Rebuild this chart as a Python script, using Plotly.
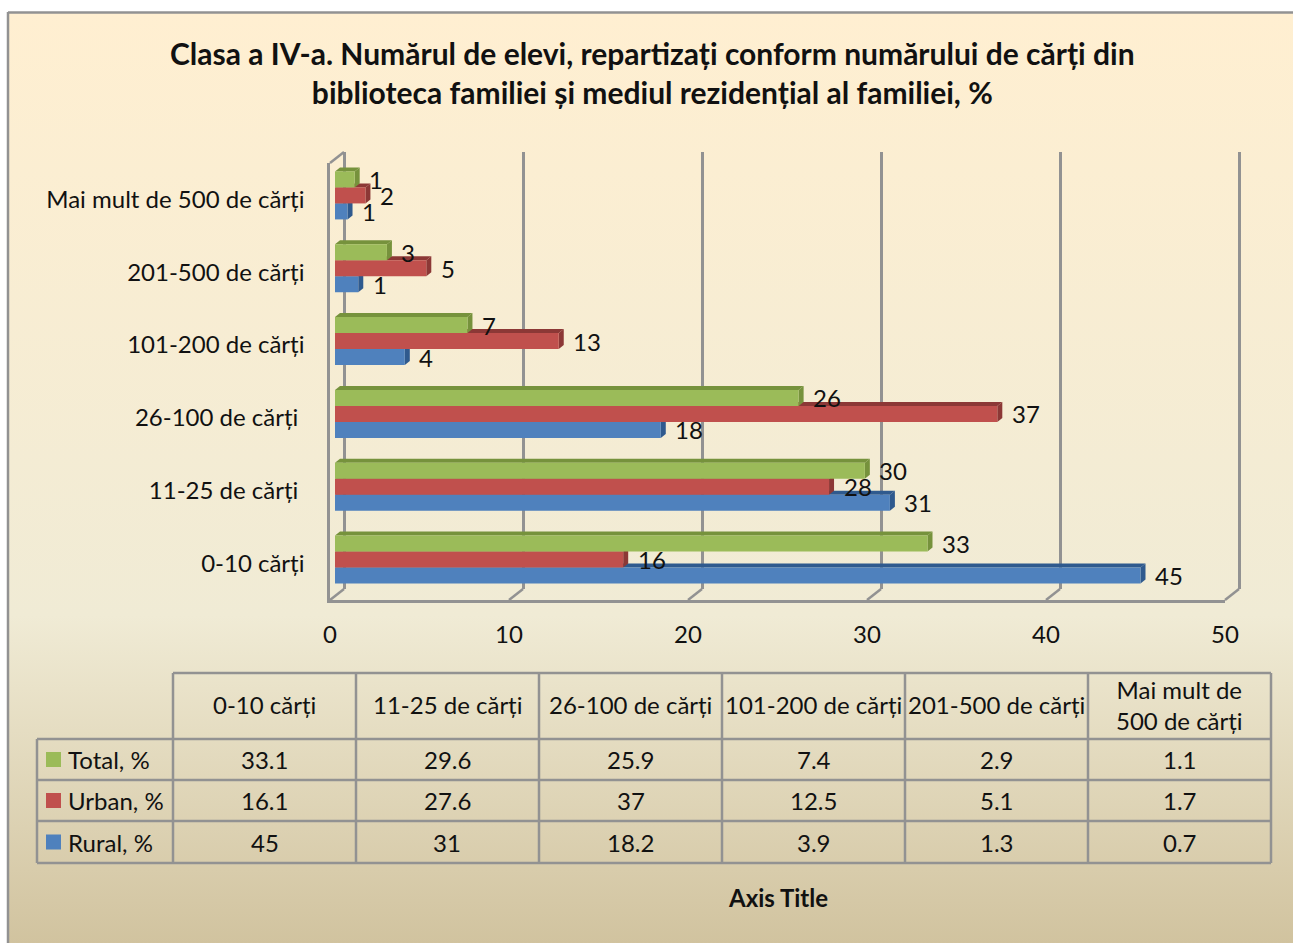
import plotly.graph_objects as go

W = 1293
H = 943

categories = ["0-10 cărți", "11-25 de cărți", "26-100 de cărți", "101-200 de cărți", "201-500 de cărți", "Mai mult de 500 de cărți"]
axis_labels = ["0-10 cărți", "11-25 de cărți\u00a0", "26-100 de cărți\u00a0", "101-200 de cărți", "201-500 de cărți", "Mai mult de 500 de cărți"]
table_heads = ["0-10 cărți", "11-25 de cărți", "26-100 de cărți", "101-200 de cărți", "201-500 de cărți", "Mai mult de<br>500 de cărți"]
rural = [45, 31, 18.2, 3.9, 1.3, 0.7]
urban = [16.1, 27.6, 37, 12.5, 5.1, 1.7]
total = [33.1, 29.6, 25.9, 7.4, 2.9, 1.1]
x_ticks = [0, 10, 20, 30, 40, 50]

# bottom to top inside each group
series = [
    ("Rural, %", rural, "#4F81BD", "#2F5A8E"),
    ("Urban, %", urban, "#C0504D", "#8C3836"),
    ("Total, %", total, "#9BBB59", "#76923C"),
]

FONT = "Lato"
GRID = "#929292"
TEXT = "#111111"
SIZE = 24


def px(x):
    return x / W


def py(y):
    return 1 - y / H


def dom_x(a, b):
    return [px(a), px(b)]


def dom_y(top, bottom):
    return [py(bottom), py(top)]


fig = go.Figure()

# parchment background, first subplot so it stays behind everything
fig.add_trace(go.Scatter(
    x=[0, 1, 1, 0, 0], y=[0, 0, 1, 1, 0], mode="none", fill="toself", hoverinfo="skip", showlegend=False,
    fillgradient=dict(type="vertical", colorscale=[[0, "#D1C39F"], [0.352, "#F0EBD5"], [1, "#FFEFD1"]]),
))

# back wall, holds the gridlines
fig.add_trace(go.Scatter(x=[], y=[], xaxis="x2", yaxis="y2", showlegend=False))

bar_h = 16 / 72.83
depth_x = 5 / 17.9
depth_y = 4 / 72.83
shapes = []
annotations = []

for k, (name, values, color, dark) in enumerate(series):
    pos = [i + 0.5 + (k - 1) * bar_h for i in range(len(values))]
    fig.add_trace(go.Bar(
        x=values, y=pos, width=bar_h, orientation="h", name=name, marker=dict(color=color, line=dict(width=0)),
        xaxis="x3", yaxis="y3", showlegend=False, hoverinfo="x",
    ))
    for v, p in zip(values, pos):
        t = p + bar_h / 2
        b = p - bar_h / 2
        top_face = f"M0,{t} L{depth_x},{t + depth_y} L{v + depth_x},{t + depth_y} L{v},{t} Z"
        side_face = f"M{v},{t} L{v + depth_x},{t + depth_y} L{v + depth_x},{b + depth_y} L{v},{b} Z"
        for path in (top_face, side_face):
            shapes.append(dict(type="path", path=path, xref="x3", yref="y3", fillcolor=dark,
                               line=dict(width=0), layer="below"))
        annotations.append(dict(
            x=v, y=p, xref="x3", yref="y3", text=str(int(v + 0.5)), showarrow=False, xanchor="left",
            xshift=12.5, font=dict(family=FONT, size=SIZE, color=TEXT),
        ))

# front plane carries the axis lines and tick labels
fig.add_trace(go.Scatter(x=[], y=[], xaxis="x4", yaxis="y4", showlegend=False))

# wall corners and floor ticks
front_l, front_r, front_t, front_b = 330, 1225, 163, 600
shift_x, shift_y = 14, 11
line = dict(color=GRID, width=2.5)
for t in x_ticks:
    fx = front_l + (front_r - front_l) * t / 50
    shapes.append(dict(type="line", xref="paper", yref="paper", x0=px(fx), y0=py(front_b),
                       x1=px(fx + shift_x), y1=py(front_b - shift_y), line=line))
shapes.append(dict(type="line", xref="paper", yref="paper", x0=px(front_l), y0=py(front_t),
                   x1=px(front_l + shift_x), y1=py(front_t - shift_y), line=line))

# data table
col_x = [37, 173, 356, 539, 722, 905, 1088, 1271]
row_y = [673, 739, 780, 821, 863]
for x in col_x[1:]:
    shapes.append(dict(type="line", xref="paper", yref="paper", x0=px(x), x1=px(x), y0=py(row_y[0]), y1=py(row_y[-1]), line=line))
shapes.append(dict(type="line", xref="paper", yref="paper", x0=px(col_x[0]), x1=px(col_x[0]), y0=py(row_y[1]), y1=py(row_y[-1]), line=line))
shapes.append(dict(type="line", xref="paper", yref="paper", x0=px(col_x[1]), x1=px(col_x[-1]), y0=py(row_y[0]), y1=py(row_y[0]), line=line))
for y in row_y[1:]:
    shapes.append(dict(type="line", xref="paper", yref="paper", x0=px(col_x[0]), x1=px(col_x[-1]), y0=py(y), y1=py(y), line=line))


def label(x, y, text, size=SIZE, bold=False, anchor="center"):
    annotations.append(dict(
        x=px(x), y=py(y), xref="paper", yref="paper", text=f"<b>{text}</b>" if bold else text, showarrow=False,
        xanchor=anchor, yanchor="middle", align="center", font=dict(family=FONT, size=size, color=TEXT),
    ))


for j, head in enumerate(table_heads):
    label((col_x[j + 1] + col_x[j + 2]) / 2, (row_y[0] + row_y[1]) / 2 - 1.5, head)
for r, (name, values, color, dark) in enumerate(reversed(series)):
    cy = (row_y[r + 1] + row_y[r + 2]) / 2
    shapes.append(dict(type="rect", xref="paper", yref="paper", x0=px(46), x1=px(61), y0=py(cy - 7.5), y1=py(cy + 7.5),
                       fillcolor=color, line=dict(width=0)))
    label(66, cy, name, anchor="left")
    for j, v in enumerate(values):
        label((col_x[j + 1] + col_x[j + 2]) / 2, cy, str(v))

label(653, 72.5, "Clasa a IV-a. Numărul de elevi, repartizați conform numărului de cărți din<br>biblioteca familiei și mediul rezidențial al familiei, %", size=30, bold=True)
label(778, 897, "Axis Title", size=SIZE, bold=True)

# chart area border on the top and left only
shapes.append(dict(type="line", xref="paper", yref="paper", x0=px(8), x1=1, y0=py(12.5), y1=py(12.5), line=line))
shapes.append(dict(type="line", xref="paper", yref="paper", x0=px(8), x1=px(8), y0=py(12), y1=0, line=line))

hidden = dict(visible=False, fixedrange=True)
per_unit = (front_r - front_l) / 50
fig.update_layout(
    width=W,
    height=H,
    margin=dict(l=0, r=0, t=0, b=0, autoexpand=False),
    paper_bgcolor="white",
    plot_bgcolor="rgba(0,0,0,0)",
    barmode="overlay",
    showlegend=False,
    shapes=shapes,
    annotations=annotations,
    xaxis=dict(domain=dom_x(8, W), range=[0, 1], **hidden),
    yaxis=dict(domain=dom_y(13, H), range=[0, 1], **hidden),
    # one unit of padding either side so the gridlines at 0 and 50 are kept
    xaxis2=dict(domain=dom_x(front_l + shift_x - per_unit, front_r + shift_x + per_unit), range=[-1, 51], anchor="y2", tickvals=x_ticks,
                showgrid=True, gridcolor=GRID, gridwidth=2.5, zeroline=False, showticklabels=False, ticks="", showline=False),
    yaxis2=dict(domain=dom_y(front_t - shift_y, front_b - shift_y), range=[0, 6], anchor="x2", showgrid=False,
                zeroline=False, showticklabels=False, ticks=""),
    xaxis3=dict(domain=dom_x(335, 1230), range=[0, 50], anchor="y3", visible=False),
    yaxis3=dict(domain=dom_y(159, 596), range=[0, 6], anchor="x3", visible=False),
    xaxis4=dict(domain=dom_x(front_l, front_r), range=[0, 50], anchor="y4", tickvals=x_ticks, showgrid=False, zeroline=False,
                showline=True, linecolor=GRID, linewidth=2.5, ticks="outside", ticklen=11, tickcolor="rgba(0,0,0,0)",
                tickfont=dict(family=FONT, size=SIZE, color=TEXT)),
    yaxis4=dict(domain=dom_y(front_t, front_b), range=[0, 6], anchor="x4", tickvals=[i + 0.5 for i in range(6)],
                ticktext=axis_labels, showgrid=False, zeroline=False, showline=True, linecolor=GRID, linewidth=2.5,
                ticks="outside", ticklen=18, tickcolor="rgba(0,0,0,0)", tickfont=dict(family=FONT, size=SIZE, color=TEXT)),
)

fig.write_html("out.html", config=dict(displayModeBar=False), post_script="document.body.style.margin='0';window.dispatchEvent(new Event('resize'));")
